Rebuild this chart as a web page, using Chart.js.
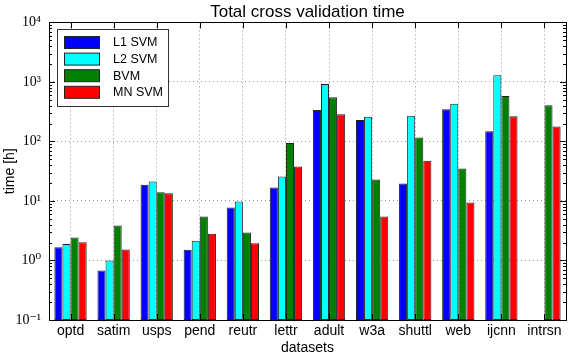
<!DOCTYPE html>
<html>
<head>
<meta charset="utf-8">
<script src="https://cdn.jsdelivr.net/npm/chart.js@4.4.0/dist/chart.umd.min.js"></script>
<style>
  html, body { margin: 0; padding: 0; background: #fff; }
</style>
</head>
<body>
<canvas id="timeChart" width="573" height="359"></canvas>
<script>
// ── Data ─────────────────────────────────────
const datasetNames = ['optd','satim','usps','pend','reutr','lettr','adult','w3a','shuttl','web','ijcnn','intrsn'];
const seriesNames  = ['L1 SVM','L2 SVM','BVM','MN SVM'];
const l1Svm = [1.67, 0.68, 18.8, 1.51, 7.8, 16.8, 338, 229, 19.6, 346, 148, null];
const l2Svm = [1.9, 1.0, 21.2, 2.14, 9.8, 25.7, 920, 261, 270, 430, 1290, null];
const bvm   = [2.43, 3.87, 14, 5.5, 2.95, 94, 550, 22.9, 116, 35, 578, 406];
const mnSvm = [2.03, 1.53, 13.5, 2.8, 1.95, 38, 285, 5.47, 47.6, 9.4, 264, 179];
const yTickExponents = [-1, 0, 1, 2, 3, 4];

const colors = ['#0000ff', '#00ffff', '#008000', '#ff0000'];
const sansFont = 'Liberation Sans, Arial, sans-serif';

const supMap = { '-': '⁻', '0': '⁰', '1': '¹', '2': '²', '3': '³', '4': '⁴', '5': '⁵', '6': '⁶', '7': '⁷', '8': '⁸', '9': '⁹' };
const powerLabel = e => '10' + String(e).split('').map(c => supMap[c]).join('');

// ── Frame, inner tick marks and legend box ─────
const framePlugin = {
    id: 'frame',
    afterDraw(chart) {
        const { ctx, chartArea: a, scales: { x, y } } = chart;
        ctx.save();
        ctx.strokeStyle = '#000';
        ctx.lineWidth = 1;
        ctx.beginPath();
        y.ticks.forEach(t => {
            const py = Math.round(y.getPixelForValue(t.value)) + 0.5;
            const len = t.major ? 6 : 3;
            ctx.moveTo(a.left, py);  ctx.lineTo(a.left + len, py);
            ctx.moveTo(a.right, py); ctx.lineTo(a.right - len, py);
        });
        datasetNames.forEach((_, i) => {
            const px = Math.round(x.getPixelForValue(i)) + 0.5;
            ctx.moveTo(px, a.top);    ctx.lineTo(px, a.top + 6);
            ctx.moveTo(px, a.bottom); ctx.lineTo(px, a.bottom - 6);
        });
        ctx.stroke();
        ctx.strokeRect(Math.round(a.left) + 0.5, Math.round(a.top) + 0.5,
                       Math.round(a.right - a.left), Math.round(a.bottom - a.top));

        // legend
        const lx = 57.5, ly = 29.5, lw = 111, lh = 77;
        ctx.fillStyle = '#fff';
        ctx.fillRect(lx, ly, lw, lh);
        ctx.strokeStyle = '#333';
        ctx.strokeRect(lx, ly, lw, lh);
        ctx.font = '12.5px ' + sansFont;
        ctx.textBaseline = 'middle';
        ctx.textAlign = 'left';
        chart.data.datasets.forEach((ds, i) => {
            const top = 36.5 + i * 16.6;
            ctx.fillStyle = ds.backgroundColor;
            ctx.fillRect(64.5, top, 35, 12);
            ctx.strokeStyle = '#222';
            ctx.strokeRect(64.5, top, 35, 12);
            ctx.fillStyle = '#000';
            ctx.fillText(ds.label, 113, top + 6.5);
        });
        ctx.restore();
    }
};

const seriesValues = [l1Svm, l2Svm, bvm, mnSvm];

new Chart(document.getElementById('timeChart'), {
    type: 'bar',
    data: {
        labels: datasetNames,
        datasets: seriesNames.map((name, i) => ({
            label: name,
            data: seriesValues[i],
            backgroundColor: colors[i],
            borderColor: '#222',
            borderWidth: 1,
            borderSkipped: false,
            categoryPercentage: 0.75,
            barPercentage: 1.0
        }))
    },
    options: {
        responsive: false,
        animation: false,
        layout: { padding: { left: 0, right: 7, top: 0, bottom: 0 } },
        plugins: {
            legend: { display: false },
            tooltip: { enabled: false },
            title: {
                display: true,
                text: 'Total cross validation time',
                fullSize: false,
                color: '#000',
                font: { family: sansFont, size: 17, weight: 'normal' },
                padding: { top: 2, bottom: 0 }
            }
        },
        scales: {
            x: {
                grid: {
                    offset: false,
                    drawTicks: false,
                    color: '#999'
                },
                border: { display: false, dash: [1, 3] },
                ticks: {
                    autoSkip: false,
                    maxRotation: 0,
                    padding: 3,
                    color: '#000',
                    font: { family: sansFont, size: 14 }
                },
                title: {
                    display: true,
                    text: 'datasets',
                    color: '#000',
                    font: { family: sansFont, size: 14 },
                    padding: { top: 0, bottom: 2 }
                },
                afterFit: s => { s.height = 39; }
            },
            y: {
                type: 'logarithmic',
                min: 0.1,
                max: 10000,
                afterBuildTicks: s => {
                    const ticks = [];
                    yTickExponents.forEach(e => {
                        ticks.push({ value: Math.pow(10, e), major: true });
                        if (e < 4) {
                            for (let m = 2; m <= 9; m++) ticks.push({ value: m * Math.pow(10, e), major: false });
                        }
                    });
                    s.ticks = ticks;
                },
                grid: {
                    drawTicks: false,
                    color: c => (c.tick && c.tick.major) ? '#999' : 'rgba(0,0,0,0)'
                },
                border: { display: false, dash: [1, 3] },
                ticks: {
                    padding: 8,
                    color: '#000',
                    autoSkip: false,
                    font: { family: 'Liberation Serif, DejaVu Serif, serif', size: 14 },
                    callback: function (v) {
                        const e = Math.log10(v);
                        return Math.abs(e - Math.round(e)) < 1e-9 ? powerLabel(Math.round(e)) : '';
                    }
                },
                title: {
                    display: true,
                    text: 'time [h]',
                    color: '#000',
                    font: { family: sansFont, size: 14 },
                    padding: { top: 2, bottom: 0 }
                },
                afterFit: s => { s.width = 49; }
            }
        }
    },
    plugins: [framePlugin]
});
</script>
</body>
</html>
